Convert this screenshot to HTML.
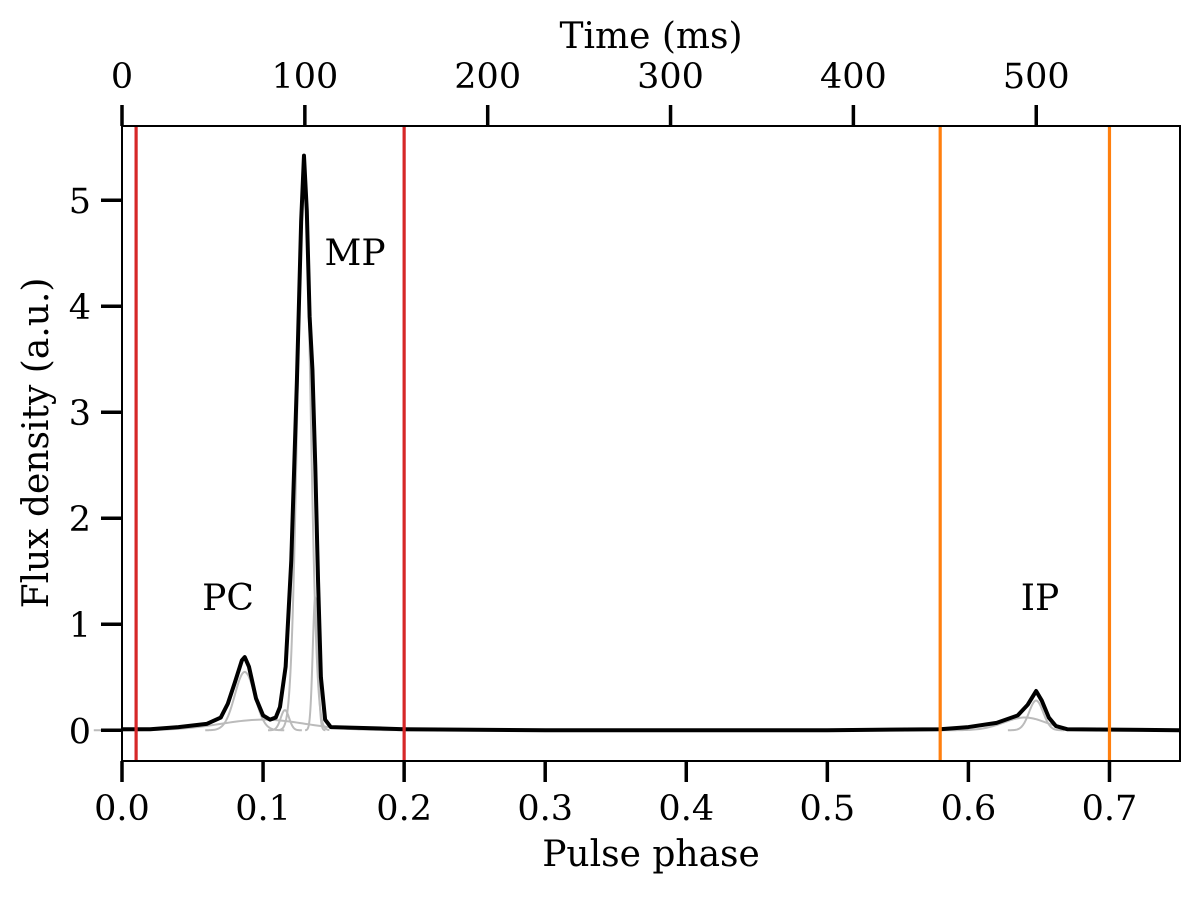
<!DOCTYPE html>
<html><head><meta charset="utf-8"><style>
html,body{margin:0;padding:0;background:#fff;}
svg text{font-family:"DejaVu Serif","Liberation Serif",serif;fill:#000;}
</style></head><body>
<svg id="chart" width="1200" height="895" viewBox="0 0 1200 895" xmlns="http://www.w3.org/2000/svg">
<g id="marks"></g>
<g id="axes"></g>
</svg>
<script>
const phases = [0,0.02,0.04,0.06,0.07,0.075,0.08,0.085,0.087,0.09,0.095,0.1,0.105,0.109,0.112,0.116,0.12,0.124,0.127,0.129,0.131,0.133,0.135,0.137,0.139,0.141,0.144,0.148,0.2,0.3,0.4,0.5,0.58,0.6,0.62,0.635,0.642,0.648,0.652,0.657,0.662,0.67,0.75];
const flux = [0.01,0.01,0.03,0.06,0.12,0.25,0.45,0.66,0.69,0.6,0.3,0.14,0.1,0.12,0.22,0.6,1.6,3.3,4.8,5.42,4.9,3.9,3.4,2.5,1.4,0.5,0.1,0.03,0.01,0.0,0.0,0.0,0.01,0.03,0.07,0.14,0.24,0.37,0.28,0.12,0.04,0.01,0.0];
const compCenters = [0.087,0.1,0.1155,0.129,0.137,0.648,0.64];
const compAmps = [0.55,0.1,0.19,5.3,1.25,0.28,0.12];
const compWidths = [0.007,0.03,0.003,0.0045,0.0018,0.005,0.015];
const redLines = [0.01,0.2];
const orangeLines = [0.58,0.7];
const xTicks = [0,0.1,0.2,0.3,0.4,0.5,0.6,0.7];
const xTickLabels = ["0.0","0.1","0.2","0.3","0.4","0.5","0.6","0.7"];
const yTicks = [0,1,2,3,4,5];
const timeTicks = [0,100,200,300,400,500];
const periodMs = 771.5;

const L=122,R=1180,T=126,B=761;
const xMin=0,xMax=0.75,yMin=-0.29,yMax=5.7;
const X=p=>L+(p-xMin)/(xMax-xMin)*(R-L);
const Y=v=>B-(v-yMin)/(yMax-yMin)*(B-T);
const NS="http://www.w3.org/2000/svg";
const marks=document.getElementById('marks'), axes=document.getElementById('axes');
function mk(tag,attrs,parent){const e=document.createElementNS(NS,tag);for(const k in attrs)e.setAttribute(k,attrs[k]);parent.appendChild(e);return e;}

compCenters.forEach((c,i)=>{
  let d="";const w=compWidths[i];
  for(let k=0;k<=120;k++){const p=c-4*w+8*w*k/120;const v=compAmps[i]*Math.exp(-0.5*((p-c)/w)**2);d+=(k?"L":"M")+X(p).toFixed(2)+","+Y(v).toFixed(2);}
  const e=mk('path',{d:d,fill:'none',stroke:'#bbb','stroke-width':2},marks);
  
  
});
let d="";phases.forEach((p,i)=>{d+=(i?"L":"M")+X(p).toFixed(2)+","+Y(flux[i]).toFixed(2);});
const prof=mk('path',{d:d,fill:'none',stroke:'#000','stroke-width':4,'stroke-linejoin':'round'},marks);


redLines.forEach(p=>{const e=mk('line',{x1:X(p),x2:X(p),y1:T,y2:B,stroke:'#d62728','stroke-width':3.2},marks);
  
  });
orangeLines.forEach(p=>{const e=mk('line',{x1:X(p),x2:X(p),y1:T,y2:B,stroke:'#ff7f0e','stroke-width':3.2},marks);
  
  });

const fr=mk('rect',{x:L,y:T,width:R-L,height:B-T,fill:'none',stroke:'#000','stroke-width':2},axes);


xTicks.forEach((t,i)=>{
  mk('line',{x1:X(t),x2:X(t),y1:B,y2:B+21,stroke:'#000','stroke-width':3.5},axes);
  const e=mk('text',{x:X(t),y:B+59,'text-anchor':'middle','font-size':35},axes);e.textContent=xTickLabels[i];
  
  
});
yTicks.forEach(t=>{
  mk('line',{x1:L-21,x2:L,y1:Y(t),y2:Y(t),stroke:'#000','stroke-width':3.5},axes);
  const e=mk('text',{x:L-31,y:Y(t)+13,'text-anchor':'end','font-size':35},axes);e.textContent=String(t);
  
  
});
timeTicks.forEach(t=>{
  const x=X(t/periodMs);
  mk('line',{x1:x,x2:x,y1:T-21,y2:T,stroke:'#000','stroke-width':3.5},axes);
  const e=mk('text',{x:x,y:88,'text-anchor':'middle','font-size':35},axes);e.textContent=String(t);
  
  
});
function label(txt,x,y,name,size,extra){const e=mk('text',Object.assign({x:x,y:y,'text-anchor':'middle','font-size':size},extra||{}),axes);e.textContent=txt;
  
  return e;}
label("Pulse phase",651,866,'x-axis-title',36);
label("Time (ms)",651,48,'top-axis-title',36);
label("Flux density (a.u.)",48,443,'y-axis-title',36,{transform:'rotate(-90 48 443)'});
label("MP",355,265,'mp-annotation',36);
label("PC",228,610,'pc-annotation',36);
label("IP",1040,610,'ip-annotation',36);
</script>
</body></html>
